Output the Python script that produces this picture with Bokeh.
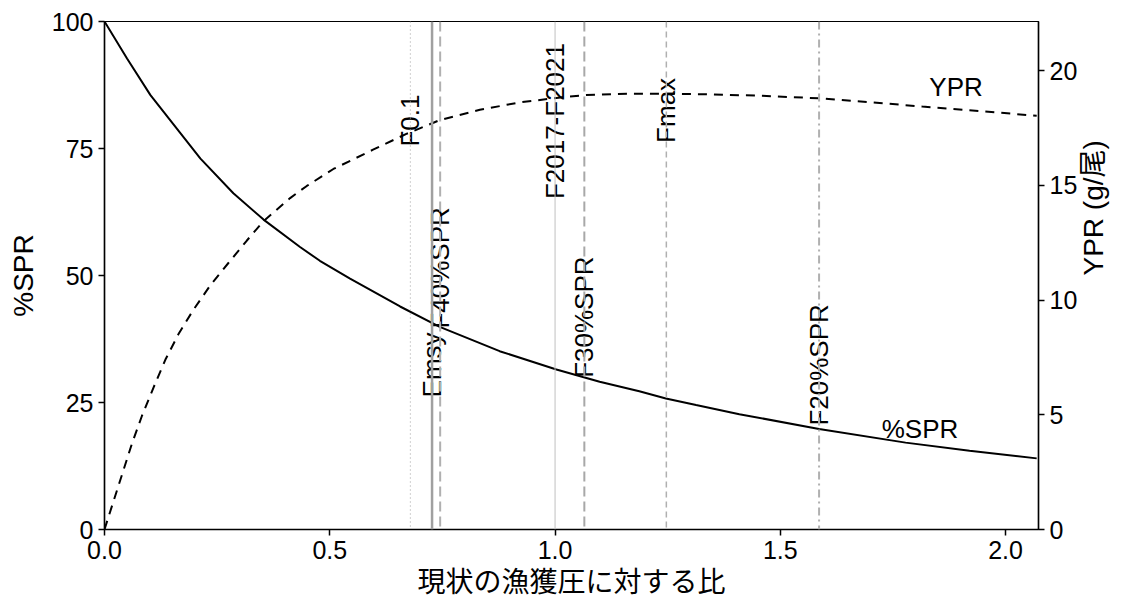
import math
from bokeh.plotting import figure
from bokeh.models import Range1d, LinearAxis, FixedTicker, PrintfTickFormatter, Span, ColumnDataSource
from bokeh.core.properties import value
from bokeh.embed import file_html
from bokeh.resources import INLINE

# ---- data ----
spr_x = [0.0, 0.05, 0.102, 0.213, 0.286, 0.353, 0.434, 0.478, 0.545, 0.656, 0.744, 0.877, 1.003,
         1.099, 1.187, 1.246, 1.313, 1.409, 1.586, 1.778, 1.92, 2.069]
spr_y = [100.0, 92.7, 85.5, 73.0, 66.2, 61.0, 55.6, 52.9, 49.4, 43.9, 39.9, 35.1, 31.5,
         29.1, 27.2, 25.8, 24.5, 22.7, 19.8, 17.1, 15.5, 14.0]

ypr_x = [0.0, 0.017, 0.039, 0.061, 0.083, 0.109, 0.135, 0.165, 0.198, 0.235, 0.275, 0.316, 0.353,
         0.412, 0.449, 0.508, 0.596, 0.670, 0.744, 0.833, 0.921, 1.017, 1.069, 1.165, 1.254,
         1.350, 1.460, 1.586, 1.70, 1.815, 1.94, 2.069]
ypr_y = [0.0, 1.05, 2.4, 3.75, 4.95, 6.2, 7.4, 8.55, 9.6, 10.65, 11.62, 12.6, 13.45,
         14.45, 14.98, 15.72, 16.56, 17.25, 17.85, 18.3, 18.62, 18.85, 18.94, 19.0, 19.0,
         18.97, 18.91, 18.8, 18.63, 18.44, 18.25, 18.04]

ref_names = ["F0.1", "Emsy", "F40%SPR", "F2017-F2021", "F30%SPR", "Fmax", "F20%SPR"]
ref_x = [0.679, 0.727, 0.745, 1.0, 1.065, 1.247, 1.586]
ref_label_y = [80.5, 32.4, 51.5, 80.4, 41.8, 82.5, 32.4]

x_ticks = [0.0, 0.5, 1.0, 1.5, 2.0]
left_ticks = [0, 25, 50, 75, 100]
right_ticks = [0, 5, 10, 15, 20]

curve_labels = ["YPR", "%SPR"]
curve_label_x = [1.89, 1.81]
curve_label_y = [87.1, 19.7]

# ---- styles ----
ref_styles = [
    dict(color="#b0b0b0", width=1.2, dash="1 3"),
    dict(color="#a0a0a0", width=2.5, dash="solid"),
    dict(color="#b0b0b0", width=2.0, dash="10 5"),
    dict(color="#c0c0c0", width=1.0, dash="solid"),
    dict(color="#a8a8a8", width=2.0, dash="10 5"),
    dict(color="#b0b0b0", width=1.5, dash="6 4"),
    dict(color="#b0b0b0", width=2.0, dash="8 4 2 4"),
]

FONT = "Liberation Sans, Noto Sans CJK JP"

p = figure(width=1127, height=600, output_backend="svg", toolbar_location=None,
           x_range=Range1d(0, 2.073), y_range=Range1d(0, 100),
           min_border_left=104, min_border_right=87, min_border_top=21, min_border_bottom=70)
p.extra_y_ranges = {"ypr": Range1d(0, 22.15)}
p.xgrid.visible = False
p.ygrid.visible = False
p.outline_line_color = "black"
p.outline_line_width = 1.2
p.background_fill_color = "white"
p.border_fill_color = "white"

for xv, st in zip(ref_x, ref_styles):
    p.add_layout(Span(location=xv, dimension="height", line_color=st["color"],
                      line_width=st["width"], line_dash=st["dash"]))

p.line(spr_x, spr_y, line_color="black", line_width=2)
p.line(ypr_x, ypr_y, line_color="black", line_width=2, line_dash="9 7", y_range_name="ypr")

src = ColumnDataSource(dict(x=ref_x, y=ref_label_y, t=ref_names))
p.text(x="x", y="y", text="t", source=src, angle=math.pi / 2, text_align="center",
       text_baseline="middle", text_font=value(FONT), text_font_size="26px", text_color="black")

src2 = ColumnDataSource(dict(x=curve_label_x, y=curve_label_y, t=curve_labels))
p.text(x="x", y="y", text="t", source=src2, text_align="center", text_baseline="middle",
       text_font=value(FONT), text_font_size="26px", text_color="black")

def style_axis(ax):
    ax.axis_line_color = "black"
    ax.axis_line_width = 1.5
    ax.major_tick_line_color = "black"
    ax.major_tick_line_width = 1.5
    ax.major_tick_out = 6
    ax.major_tick_in = 0
    ax.minor_tick_line_color = None
    ax.major_label_text_font = FONT
    ax.major_label_text_font_size = "25px"
    ax.major_label_text_color = "black"
    ax.major_label_standoff = 5
    ax.axis_label_text_font = FONT
    ax.axis_label_text_font_size = "28px"
    ax.axis_label_text_font_style = "normal"
    ax.axis_label_text_color = "black"

xa = p.xaxis[0]
style_axis(xa)
xa.ticker = FixedTicker(ticks=x_ticks)
xa.formatter = PrintfTickFormatter(format="%.1f")
xa.axis_label = "現状の漁獲圧に対する比"
xa.axis_label_standoff = 5

ya = p.yaxis[0]
style_axis(ya)
ya.ticker = FixedTicker(ticks=left_ticks)
ya.axis_label = "%SPR"
ya.axis_label_standoff = 10

ra = LinearAxis(y_range_name="ypr", axis_label="YPR (g/尾)")
style_axis(ra)
ra.ticker = FixedTicker(ticks=right_ticks)
ra.axis_label_standoff = 13
ra.axis_label_orientation = math.pi / 2
p.add_layout(ra, "right")

open("out.html", "w").write(file_html(p, INLINE))
